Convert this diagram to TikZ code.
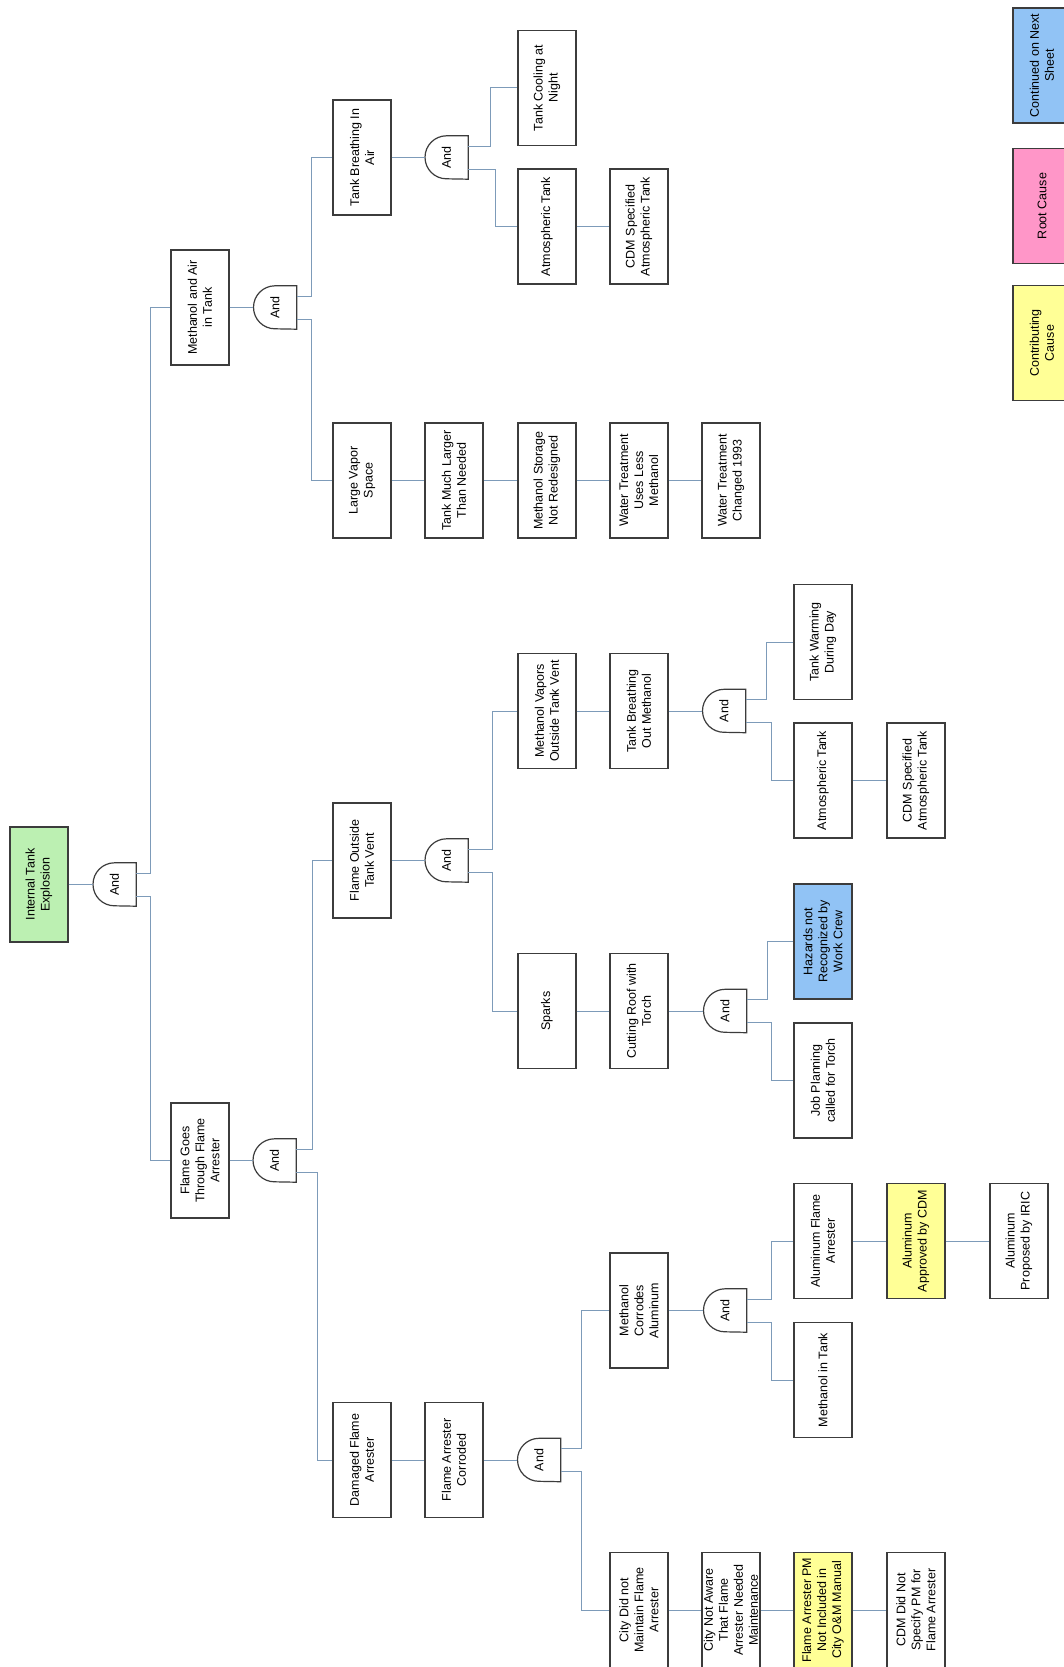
\documentclass[tikz,border=0pt]{standalone}
\usepackage{fontspec}
\setmainfont{Liberation Sans}
\usepackage{graphicx}
\definecolor{boxgrey}{RGB}{60,60,60}
\definecolor{wireblue}{RGB}{125,155,185}
\definecolor{topgreen}{RGB}{188,240,178}
\definecolor{nextblue}{RGB}{145,195,245}
\definecolor{rootpink}{RGB}{255,150,200}
\definecolor{contyellow}{RGB}{255,255,150}
\tikzset{
  event/.style={draw=boxgrey, line width=1.2pt, fill=white, minimum width=58pt, minimum height=115pt, inner sep=0pt},
  gate/.style={minimum width=43pt, minimum height=43pt, inner sep=0pt},
  wire/.style={draw=wireblue, line width=1pt}
}
\newcommand{\evtext}[1]{\rotatebox{90}{\parbox{112pt}{\centering #1}}}
\begin{document}
\begin{tikzpicture}[x=1pt,y=1pt,font=\fontsize{12.5}{15}\selectfont]
\fill[white] (0,0) rectangle (1063,-1667);
\useasboundingbox (0,0) rectangle (1063,-1667);
% top event and first gate
\node[event,fill=topgreen] (ite) at (39,-884.5) {\evtext{Internal Tank\\Explosion}};
\node[gate] (g0) at (114.5,-884.5) {\rotatebox{90}{And}};
\node[event] (mat) at (200,-307.5) {\evtext{Methanol and Air\\in Tank}};
\node[event] (fgt) at (200,-1160.5) {\evtext{Flame Goes\\Through Flame\\Arrester}};
\node[gate] (g1) at (275,-307.5) {\rotatebox{90}{And}};
\node[gate] (g2) at (274.5,-1160.5) {\rotatebox{90}{And}};
% methanol and air branch
\node[event] (tbia) at (362,-157.5) {\evtext{Tank Breathing In\\Air}};
\node[gate] (g3) at (446.5,-157.5) {\rotatebox{90}{And}};
\node[event] (tcn) at (547,-88) {\evtext{Tank Cooling at\\Night}};
\node[event] (ata) at (547,-226.5) {\evtext{Atmospheric Tank}};
\node[event] (cdma) at (639,-226.5) {\evtext{CDM Specified\\Atmospheric Tank}};
\node[event] (lvs) at (362,-480.5) {\evtext{Large Vapor\\Space}};
\node[event] (tml) at (454,-480.5) {\evtext{Tank Much Larger\\Than Needed}};
\node[event] (msnr) at (547,-480.5) {\evtext{Methanol Storage\\Not Redesigned}};
\node[event] (wtul) at (639,-480.5) {\evtext{Water Treatment\\Uses Less\\Methanol}};
\node[event] (wtc) at (731,-480.5) {\evtext{Water Treatment\\Changed 1993}};
% flame outside tank vent branch
\node[event] (fotv) at (362,-860.5) {\evtext{Flame Outside\\Tank Vent}};
\node[gate] (g4) at (446.5,-860.5) {\rotatebox{90}{And}};
\node[event] (mvo) at (547,-711) {\evtext{Methanol Vapors\\Outside Tank Vent}};
\node[event] (tbom) at (639,-711) {\evtext{Tank Breathing\\Out Methanol}};
\node[gate] (g5) at (724,-711) {\rotatebox{90}{And}};
\node[event] (twd) at (823,-642) {\evtext{Tank Warming\\During Day}};
\node[event] (atb) at (823,-780.5) {\evtext{Atmospheric Tank}};
\node[event] (cdmb) at (916,-780.5) {\evtext{CDM Specified\\Atmospheric Tank}};
\node[event] (spk) at (547,-1011) {\evtext{Sparks}};
\node[event] (crt) at (639,-1011) {\evtext{Cutting Roof with\\Torch}};
\node[gate] (g6) at (725,-1011) {\rotatebox{90}{And}};
\node[event,fill=nextblue] (hnr) at (823,-941.5) {\evtext{Hazards not\\Recognized by\\Work Crew}};
\node[event] (jpt) at (823,-1080.5) {\evtext{Job Planning\\called for Torch}};
% damaged flame arrester branch
\node[event] (dfa) at (362,-1460) {\evtext{Damaged Flame\\Arrester}};
\node[event] (fac) at (454,-1460) {\evtext{Flame Arrester\\Corroded}};
\node[gate] (g8) at (539,-1460) {\rotatebox{90}{And}};
\node[event] (mca) at (639,-1310.5) {\evtext{Methanol\\Corrodes\\Aluminum}};
\node[gate] (g7) at (725,-1310.5) {\rotatebox{90}{And}};
\node[event] (afa) at (823,-1241) {\evtext{Aluminum Flame\\Arrester}};
\node[event,fill=contyellow] (aac) at (916,-1241) {\evtext{Aluminum\\Approved by CDM}};
\node[event] (api) at (1019,-1241) {\evtext{Aluminum\\Proposed by IRIC}};
\node[event] (mit) at (823,-1380) {\evtext{Methanol in Tank}};
\node[event] (cdnm) at (639,-1610) {\evtext{City Did not\\Maintain Flame\\Arrester}};
\node[event] (cna) at (731,-1610) {\evtext{City Not Aware\\That Flame\\Arrester Needed\\Maintenance}};
\node[event,fill=contyellow] (fapm) at (823,-1610) {\evtext{Flame Arrester PM\\Not Included in\\City O\&M Manual}};
\node[event] (cdns) at (916,-1610) {\evtext{CDM Did Not\\Specify PM for\\Flame Arrester}};
% legend
\node[event,fill=nextblue] (lnext) at (1042,-65.5) {\evtext{Continued on Next\\Sheet}};
\node[event,fill=rootpink] (lroot) at (1042,-206) {\evtext{Root Cause}};
\node[event,fill=contyellow] (lcont) at (1042,-343) {\evtext{Contributing\\Cause}};
% and gates
\foreach \g in {g0,g1,g2,g3,g4,g5,g6,g7,g8}
  \draw[boxgrey,line width=1.2pt] (\g.north east) -- (\g.north) arc[start angle=90,end angle=270,radius=21.5] -- (\g.south east) -- cycle;
% connectors
\draw[wire] (ite) -- (g0);
\draw[wire] ([yshift=11.5pt]g0.east) -- ++(14,0) |- (mat.west);
\draw[wire] ([yshift=-11.5pt]g0.east) -- ++(14,0) |- (fgt.west);
\draw[wire] (mat) -- (g1);
\draw[wire] ([yshift=11.5pt]g1.east) -- ++(15,0) |- (tbia.west);
\draw[wire] ([yshift=-11.5pt]g1.east) -- ++(15,0) |- (lvs.west);
\draw[wire] (tbia) -- (g3);
\draw[wire] ([yshift=11.5pt]g3.east) -- ++(22,0) |- (tcn.west);
\draw[wire] ([yshift=-11.5pt]g3.east) -- ++(27,0) |- (ata.west);
\draw[wire] (ata) -- (cdma);
\draw[wire] (lvs) -- (tml) -- (msnr) -- (wtul) -- (wtc);
\draw[wire] (fgt) -- (g2);
\draw[wire] ([yshift=11.5pt]g2.east) -- ++(16,0) |- (fotv.west);
\draw[wire] ([yshift=-11.5pt]g2.east) -- ++(21,0) |- (dfa.west);
\draw[wire] (fotv) -- (g4);
\draw[wire] ([yshift=11.5pt]g4.east) -- ++(24,0) |- (mvo.west);
\draw[wire] ([yshift=-11.5pt]g4.east) -- ++(24,0) |- (spk.west);
\draw[wire] (mvo) -- (tbom) -- (g5);
\draw[wire] ([yshift=11.5pt]g5.east) -- ++(21,0) |- (twd.west);
\draw[wire] ([yshift=-11.5pt]g5.east) -- ++(26,0) |- (atb.west);
\draw[wire] (atb) -- (cdmb);
\draw[wire] (spk) -- (crt) -- (g6);
\draw[wire] ([yshift=11.5pt]g6.east) -- ++(21,0) |- (hnr.west);
\draw[wire] ([yshift=-11.5pt]g6.east) -- ++(25,0) |- (jpt.west);
\draw[wire] (dfa) -- (fac) -- (g8);
\draw[wire] ([yshift=11.5pt]g8.east) -- ++(21,0) |- (mca.west);
\draw[wire] ([yshift=-11.5pt]g8.east) -- ++(21,0) |- (cdnm.west);
\draw[wire] (mca) -- (g7);
\draw[wire] ([yshift=11.5pt]g7.east) -- ++(25,0) |- (afa.west);
\draw[wire] ([yshift=-11.5pt]g7.east) -- ++(25,0) |- (mit.west);
\draw[wire] (afa) -- (aac) -- (api);
\draw[wire] (cdnm) -- (cna) -- (fapm) -- (cdns);
\end{tikzpicture}
\end{document}
